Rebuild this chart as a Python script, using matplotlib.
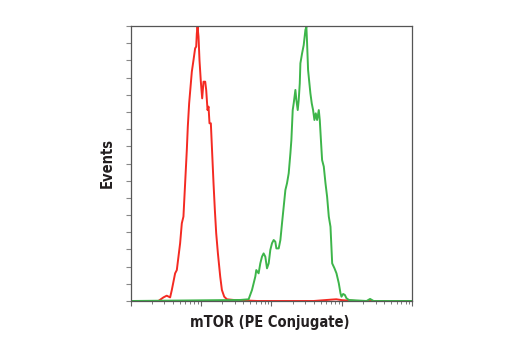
import numpy as np
import matplotlib
matplotlib.use("Agg")
import matplotlib.pyplot as plt
from matplotlib.ticker import LogLocator, NullFormatter, MultipleLocator
from matplotlib import font_manager

# log10 intensity and event counts (scaled so top of axis = 16)
red_log = [0.0, 0.396, 0.467, 0.514, 0.562, 0.586, 0.633, 0.657, 0.704, 0.728, 0.751,
           0.775, 0.799, 0.813, 0.832, 0.856, 0.870, 0.894, 0.917, 0.932, 0.941,
           0.951, 0.965, 0.979, 0.998, 1.017, 1.036, 1.060, 1.074, 1.093, 1.107,
           1.121, 1.140, 1.159, 1.178, 1.197, 1.216, 1.240, 1.273, 1.297, 1.330,
           1.368, 1.463, 1.8, 2.6, 2.85, 2.92, 3.0, 3.2, 4.0]
red_cnt = [0.0, 0.0, 0.21, 0.31, 0.21, 0.64, 1.61, 1.80, 3.36, 4.52, 4.91,
           6.85, 8.79, 10.14, 11.50, 12.66, 13.34, 14.02, 14.70, 14.80, 15.57,
           15.96, 15.38, 14.0, 12.76, 11.79, 12.76, 12.76, 12.28, 11.11, 11.31,
           10.34, 10.34, 8.59, 6.85, 5.29, 3.94, 2.78, 1.42, 0.64, 0.25,
           0.10, 0.06, 0.0, 0.0, 0.08, 0.1, 0.05, 0.0, 0.0]

green_log = [0.0, 1.558, 1.676, 1.724, 1.771, 1.785, 1.818, 1.842, 1.866, 1.889, 1.913,
             1.937, 1.961, 1.984, 2.008, 2.032, 2.055, 2.070, 2.103, 2.127, 2.150,
             2.174, 2.198, 2.221, 2.245, 2.269, 2.283, 2.302, 2.316, 2.340, 2.354,
             2.373, 2.387, 2.402, 2.411, 2.435, 2.458, 2.482, 2.496, 2.506, 2.520,
             2.534, 2.553, 2.572, 2.591, 2.610, 2.629, 2.648, 2.672, 2.686, 2.705,
             2.719, 2.743, 2.767, 2.790, 2.814, 2.838, 2.862, 2.895, 2.923, 2.956,
             2.980, 2.994, 3.018, 3.042, 3.065, 3.099, 3.35, 3.40, 3.45, 4.0]
green_cnt = [0.0, 0.06, 0.10, 0.64, 1.42, 1.80, 1.61, 2.19, 2.58, 2.77, 2.58,
             1.90, 2.19, 2.97, 3.36, 3.55, 3.45, 3.06, 3.06, 3.55, 4.52,
             5.49, 6.46, 6.85, 7.43, 8.59, 9.37, 11.11, 11.50, 12.28, 11.69,
             11.11, 11.69, 12.66, 13.83, 14.41, 14.89, 15.77, 15.95, 14.99, 13.44,
             12.86, 12.08, 11.50, 11.11, 10.53, 10.92, 10.53, 11.11, 10.53, 9.17,
             8.20, 7.82, 6.85, 6.07, 4.91, 4.32, 2.19, 1.90, 1.61, 1.03,
             0.45, 0.25, 0.41, 0.35, 0.16, 0.06, 0.0, 0.12, 0.0, 0.0]

xlabel = "mTOR (PE Conjugate)"
ylabel = "Events"

fig = plt.figure(figsize=(5.2, 3.5), dpi=100)
ax = fig.add_axes([0.251, 0.14, 0.542, 0.7857])

ax.plot(10 ** np.array(red_log), red_cnt, color="#f42a22", lw=1.4)
ax.plot(10 ** np.array(green_log), green_cnt, color="#3db54a", lw=1.4)

ax.set_xscale("log")
ax.set_xlim(1, 1e4)
ax.set_ylim(0, 16)
ax.xaxis.set_major_locator(LogLocator(base=10, numticks=10))
ax.xaxis.set_minor_locator(LogLocator(base=10, subs=np.arange(2, 10), numticks=20))
ax.xaxis.set_major_formatter(NullFormatter())
ax.xaxis.set_minor_formatter(NullFormatter())
ax.yaxis.set_major_locator(MultipleLocator(1))
ax.set_yticklabels([])
ax.tick_params(axis="x", which="major", direction="out", length=3.5, width=0.8, color="#666666")
ax.tick_params(axis="x", which="minor", direction="out", length=2.5, width=0.6, color="#666666")
ax.tick_params(axis="y", which="major", direction="out", length=3.5, width=0.8, color="#888888")
for s in ax.spines.values():
    s.set_color("#555555")
    s.set_linewidth(0.9)

# pick a condensed bold face if one is installed
cond = None
for f in font_manager.fontManager.ttflist:
    n = f.fname.lower()
    if ("condensed" in n or "narrow" in n) and ("bold" in n) and "oblique" not in n and "italic" not in n:
        cond = f.fname
        break
if cond:
    fp = font_manager.FontProperties(fname=cond, size=10.5)
else:
    fp = font_manager.FontProperties(family="DejaVu Sans", weight="bold", size=9.5)

fig.text(270 / 520, 1 - 323 / 350, xlabel, ha="center", va="center",
         fontproperties=fp, color="#231f20")
fig.text(107 / 520, 1 - 163 / 350, ylabel, ha="center", va="center", rotation=90,
         fontproperties=fp, color="#231f20")

fig.savefig("out.png", dpi=100)
